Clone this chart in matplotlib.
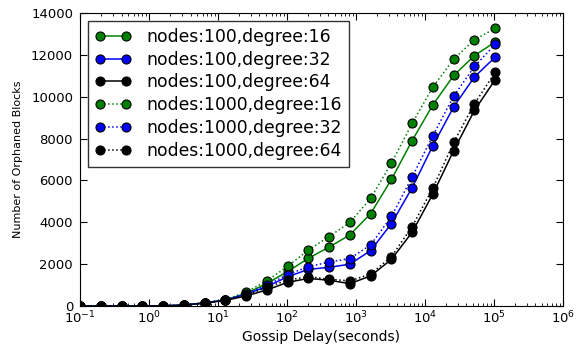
import numpy as np
import matplotlib
matplotlib.use('Agg')
import matplotlib.pyplot as plt

# gossip delay doubles from 0.1 s
delay = [0.1 * 2 ** k for k in range(21)]

n100_d16 = [0, 0, 0, 0, 10, 40, 150, 290, 600, 1080, 1650, 2280, 2820, 3400, 4420, 6050, 7910, 9620, 11020, 11970, 12620]
n100_d32 = [0, 0, 0, 0, 10, 40, 150, 280, 570, 930, 1400, 1750, 1850, 2000, 2650, 3940, 5660, 7670, 9520, 10950, 11900]
n100_d64 = [0, 0, 0, 0, 10, 40, 140, 270, 480, 770, 1130, 1320, 1230, 1070, 1440, 2230, 3530, 5360, 7430, 9350, 10820]
n1000_d16 = [0, 0, 0, 0, 10, 40, 160, 300, 670, 1200, 1900, 2680, 3320, 4000, 5140, 6830, 8730, 10470, 11800, 12730, 13270]
n1000_d32 = [0, 0, 0, 0, 10, 40, 150, 290, 580, 1000, 1500, 1880, 2100, 2270, 2920, 4280, 6170, 8150, 10030, 11450, 12510]
n1000_d64 = [0, 0, 0, 0, 10, 40, 145, 280, 520, 890, 1240, 1400, 1280, 1200, 1530, 2360, 3800, 5650, 7820, 9670, 11170]

series = [
    ('nodes:100,degree:16', n100_d16, 'g', '-'),
    ('nodes:100,degree:32', n100_d32, 'b', '-'),
    ('nodes:100,degree:64', n100_d64, 'k', '-'),
    ('nodes:1000,degree:16', n1000_d16, 'g', ':'),
    ('nodes:1000,degree:32', n1000_d32, 'b', ':'),
    ('nodes:1000,degree:64', n1000_d64, 'k', ':'),
]

green = (0, 0.5, 0)

fig = plt.figure(figsize=(5.76, 3.45), dpi=100)
ax = fig.add_axes([0.139, 0.113, 0.838, 0.849])

for label, vals, c, ls in series:
    col = green if c == 'g' else c
    ax.plot(delay, vals, color=col, linestyle=ls, marker='o', markersize=6.5,
            markerfacecolor=col, markeredgecolor='k', markeredgewidth=0.8,
            linewidth=1.1, label=label)

ax.set_xscale('log')
ax.set_xlim(0.1, 1e6)
ax.set_ylim(0, 14000)
ax.set_yticks(np.arange(0, 14001, 2000))
ax.tick_params(which='both', direction='in', top=True, right=True, labelsize=9.5)
ax.tick_params(which='major', length=5, pad=3)
ax.tick_params(axis='y', pad=5)
ax.tick_params(which='minor', length=2.5)
ax.set_xlabel('Gossip Delay(seconds)', fontsize=10, labelpad=2)
ax.set_ylabel('Number of Orphaned Blocks', fontsize=8, labelpad=6)

leg = ax.legend(loc='upper left', numpoints=2, fontsize=12.4, fancybox=False,
                handlelength=2.1, handletextpad=0.9, borderpad=0.4,
                labelspacing=0.28, borderaxespad=0.45)
leg.get_frame().set_edgecolor('k')
leg.get_frame().set_linewidth(1.0)

fig.savefig('out.png', dpi=100)
